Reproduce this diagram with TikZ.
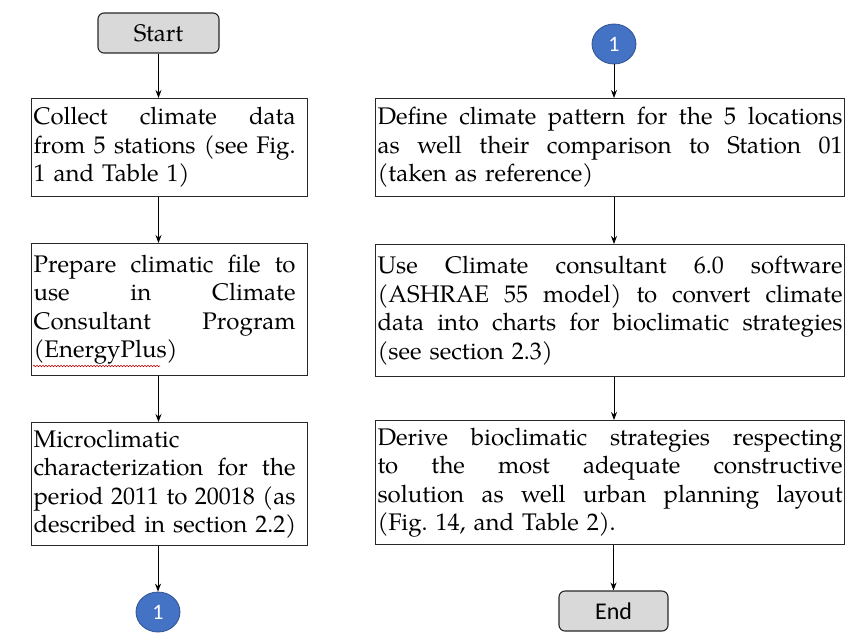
\documentclass[tikz,border=0pt]{standalone}
\usepackage{fontspec}
\setmainfont{texgyrepagella-regular.otf}
\newfontfamily\calfont{Carlito}
\usetikzlibrary{shapes.geometric,arrows.meta,decorations.pathmorphing}
\definecolor{circfill}{RGB}{68,114,196}
\definecolor{circline}{RGB}{47,82,143}
\definecolor{termfill}{RGB}{217,217,217}
\definecolor{boxline}{RGB}{40,40,40}
\newcommand{\jl}[2]{\leavevmode\hbox to #1{\spaceskip=0.25em plus 1fil\relax #2}}
\frenchspacing
\tikzset{
  x=1pt, y=-1pt,
  procbox/.style={draw=boxline, line width=1.1pt, rectangle, inner ysep=0pt, inner xsep=2pt,
    anchor=north west, align=left, font=\fontsize{24}{28.5}\selectfont\frenchspacing},
  leftbox/.style={procbox, minimum width=276pt, text width=272pt},
  rightbox/.style={procbox, minimum width=469pt, text width=465pt},
  term/.style={draw=boxline, line width=1.1pt, fill=termfill, rounded corners=6pt, rectangle,
    minimum height=40pt, inner sep=0pt},
  conn/.style={draw=circline, line width=0.8pt, fill=circfill, ellipse, minimum width=44pt,
    minimum height=40pt, inner sep=0pt, text=white, font=\calfont\fontsize{22}{22}\selectfont},
  arr/.style={draw=black, line width=1pt, -{Stealth[length=8pt,width=6pt]}},
}
\begin{document}
\begin{tikzpicture}
\useasboundingbox (0,0) rectangle (845,633);
\fill[white] (0,0) rectangle (845,633);

% left column
\node[term, minimum width=121pt, font=\fontsize{24}{24}\selectfont] (start) at (158.5,33) {Start};
\node[leftbox, minimum height=98pt] (b1) at (31,98) {%
\jl{262pt}{Collect climate data}\\
\jl{262pt}{from 5 stations (see Fig.}\\
1 and Table 1)};
\node[leftbox, minimum height=132pt] (b2) at (31,243) {%
\jl{262pt}{Prepare climatic file to}\\
\jl{262pt}{use in Climate}\\
\jl{262pt}{Consultant Program}\\
(EnergyPlus)};
\node[leftbox, minimum height=123pt] (b3) at (31,422) {%
Microclimatic\\
\jl{262pt}{characterization for the}\\
\jl{262pt}{period 2011 to 20018 (as}\\
described in section 2.2)};
\node[conn] (c1) at (158,612) {1};

% right column
\node[conn] (c2) at (614,44) {1};
\node[rightbox, minimum height=98pt] (b4) at (375,98) {%
\jl{465pt}{Define climate pattern for the 5 locations}\\
\jl{465pt}{as well their comparison to Station 01}\\
(taken as reference)};
\node[rightbox, minimum height=132pt] (b5) at (375,244) {%
\jl{465pt}{Use Climate consultant 6.0 software}\\
\jl{465pt}{(ASHRAE 55 model) to convert climate}\\
\jl{465pt}{data into charts for bioclimatic strategies}\\
(see section 2.3)};
\node[rightbox, minimum height=124pt] (b6) at (375,420) {%
\jl{465pt}{Derive bioclimatic strategies respecting}\\
\jl{465pt}{to the most adequate constructive}\\
\jl{465pt}{solution as well urban planning layout}\\
(Fig. 14, and Table 2).};
\node[term, minimum width=109pt, font=\calfont\fontsize{24}{24}\selectfont] (end) at (613.5,611) {End};

% spell-check underline
\draw[red!75!black, line width=0.6pt, decorate,
  decoration={snake, amplitude=0.7pt, segment length=3pt}] (33,366) -- (160,366);

% connectors
\draw[arr] (start.south) -- (start.south |- b1.north);
\draw[arr] (b1.south -| start.south) -- (b2.north -| start.south);
\draw[arr] (b2.south -| start.south) -- (b3.north -| start.south);
\draw[arr] (b3.south -| c1.north) -- (c1.north);
\draw[arr] (c2.south) -- (c2.south |- b4.north);
\draw[arr] (b4.south -| c2.south) -- (b5.north -| c2.south);
\draw[arr] (b5.south -| c2.south) -- (b6.north -| c2.south);
\draw[arr] (b6.south -| end.north) -- (end.north);
\end{tikzpicture}
\end{document}
